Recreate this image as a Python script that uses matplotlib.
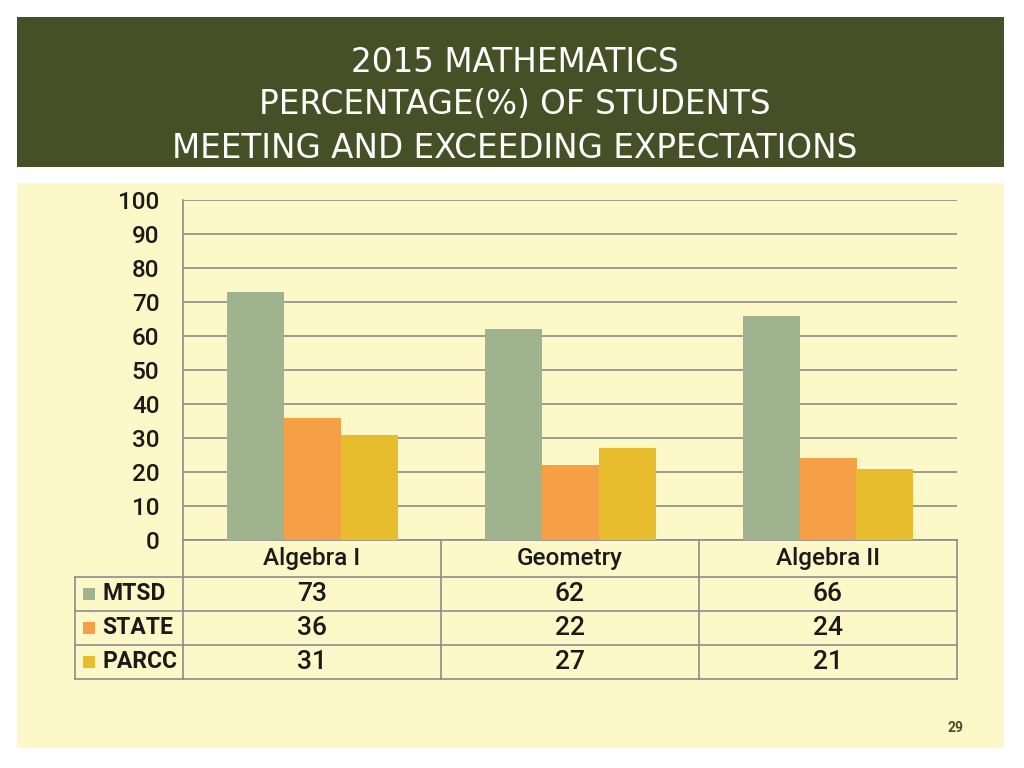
import matplotlib
matplotlib.use("Agg")
import matplotlib.pyplot as plt
from matplotlib.lines import Line2D
from matplotlib.patches import Rectangle
import numpy as np

categories = ["Algebra I", "Geometry", "Algebra II"]
series_names = ["MTSD", "STATE", "PARCC"]
mtsd = [73, 62, 66]
state = [36, 22, 24]
parcc = [31, 27, 21]
yticks = [0, 10, 20, 30, 40, 50, 60, 70, 80, 90, 100]
title_lines = ["2015 MATHEMATICS", "PERCENTAGE(%) OF STUDENTS", "MEETING AND EXCEEDING EXPECTATIONS"]
page_number = "29"

colors = ["#A0B38F", "#F5A046", "#E8BD2D"]
grid_color = "#8C8C8C"
text_color = "#1A1A1A"
W, H = 1024, 768

plt.rcParams['font.family'] = ['Roboto', 'Liberation Sans', 'DejaVu Sans']
fig = plt.figure(figsize=(W / 100, H / 100), dpi=100)
fig.patch.set_facecolor("white")

def fx(x):
    return x / W

def fy(y):
    return 1 - y / H

# Background axes holding the title band and the yellow panel
bg = fig.add_axes([0, 0, 1, 1], zorder=-10)
bg.set_xlim(0, W)
bg.set_ylim(H, 0)
bg.axis("off")
bg.add_patch(Rectangle((17, 17), 987, 150, facecolor="#474F26", edgecolor="none"))
bg.add_patch(Rectangle((17, 183), 987, 565, facecolor="#FDF8C8", edgecolor="none"))

title_y = [62, 105, 148]
for t, yy in zip(title_lines, title_y):
    fig.text(fx(515), fy(yy), t, color="white", fontsize=23.5, ha="center", va="center",
             family=["DejaVu Sans"])

# Chart axes
ax = fig.add_axes([fx(183), fy(540), fx(957) - fx(183), fy(200) - fy(540)], zorder=1)
ax.set_facecolor("none")
x = np.arange(len(categories)) + 0.5
bw = 57 / 258
data = [mtsd, state, parcc]
for i, (vals, c) in enumerate(zip(data, colors)):
    ax.bar(x + (i - 1) * bw, vals, width=bw, color=c, zorder=3)
ax.set_xlim(0, len(categories))
ax.set_ylim(0, 100)
ax.set_yticks(yticks)
ax.set_yticklabels([str(v) for v in yticks], fontsize=17.5, fontweight="medium", color=text_color)
ax.tick_params(axis="y", length=0, pad=17)
ax.set_xticks([])
ax.yaxis.grid(True, color=grid_color, linewidth=1.2, zorder=0)
ax.set_axisbelow(True)
for s in ["top", "right", "bottom"]:
    ax.spines[s].set_visible(False)
ax.spines["left"].set_color(grid_color)
ax.spines["left"].set_linewidth(1.2)

# Data table below
def hline(x0, x1, y):
    bg.add_line(Line2D([x0, x1], [y, y], color=grid_color, linewidth=1.2))

def vline(x, y0, y1):
    bg.add_line(Line2D([x, x], [y0, y1], color=grid_color, linewidth=1.2))

col_edges = [183, 441, 699, 957]
row_edges = [540, 577, 611, 645, 679]
hline(183, 957, 540)
for yy in row_edges[1:]:
    hline(75, 957, yy)
for xx in col_edges:
    vline(xx, 540, 679)
vline(75, 577, 679)

for j, cat in enumerate(categories):
    cx = (col_edges[j] + col_edges[j + 1]) / 2
    fig.text(fx(cx), fy(559), cat, fontsize=17.5, fontweight="medium", color=text_color,
             ha="center", va="center")
    for i, vals in enumerate(data):
        cy = (row_edges[i + 1] + row_edges[i + 2]) / 2
        fig.text(fx(cx), fy(cy), str(vals[j]), fontsize=19, fontweight="medium",
                 color=text_color, ha="center", va="center")

for i, (name, c) in enumerate(zip(series_names, colors)):
    cy = (row_edges[i + 1] + row_edges[i + 2]) / 2
    bg.add_patch(Rectangle((83, cy - 6), 12, 12, facecolor=c, edgecolor="none"))
    fig.text(fx(102), fy(cy), name, fontsize=16.5, fontweight="bold", color=text_color,
             ha="left", va="center")

fig.text(fx(955), fy(728), page_number, fontsize=10, fontweight="bold", color="#474F26",
         ha="center", va="center")

fig.savefig("out.png", dpi=100)
